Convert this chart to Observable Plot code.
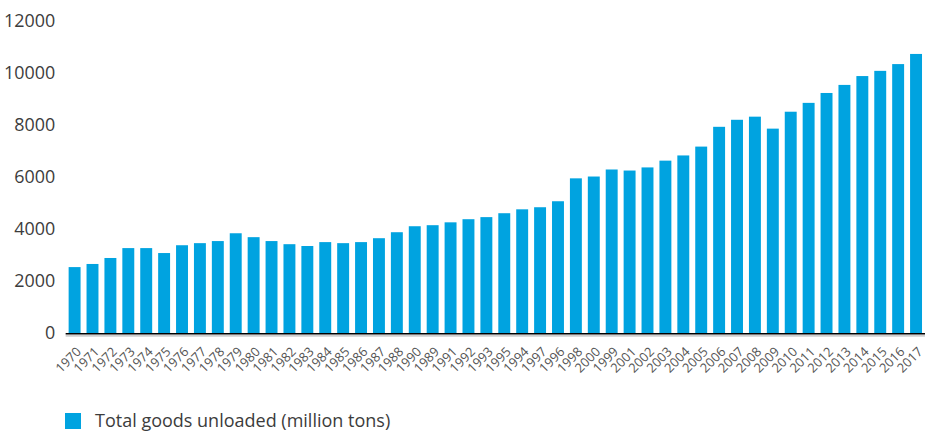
<!DOCTYPE html>
<html><head><meta charset="utf-8">
<script src="https://cdn.jsdelivr.net/npm/d3@7"></script>
<script src="https://cdn.jsdelivr.net/npm/@observablehq/plot@0.6"></script>
<style>
html,body{margin:0;padding:0;overflow:hidden;background:#fff;width:925px;height:432px;}
#chart svg{display:block;}
.legend{position:relative;height:37px;font-family:"Open Sans",sans-serif;}
.legend .sw{position:absolute;left:65px;top:20px;width:16px;height:16px;background:#00a3e0;}
.legend .lb{position:absolute;left:95px;top:18px;font-size:18px;line-height:18px;color:#3c3c3c;white-space:nowrap;}
</style></head><body>
<div id="chart"></div>
<div class="legend"><span class="sw"></span><span class="lb">Total goods unloaded (million tons)</span></div>
<script>
const years = ["1970","1971","1972","1973","1974","1975","1976","1977","1978","1979","1980","1981","1982","1983","1984","1985","1986","1987","1988","1990","1989","1991","1992","1993","1995","1994","1997","1996","1998","2000","1999","2001","2002","2003","2004","2005","2006","2007","2008","2009","2010","2011","2012","2013","2014","2015","2016","2017"];
const values = [2540,2660,2890,3270,3270,3080,3380,3460,3540,3840,3690,3540,3420,3350,3500,3460,3500,3650,3880,4110,4150,4260,4380,4460,4610,4760,4840,5070,5950,6020,6290,6250,6370,6630,6830,7170,7930,8200,8320,7860,8510,8850,9230,9540,9880,10080,10340,10730];
const yTicks = [0,2000,4000,6000,8000,10000,12000];
const data = years.map((y,i)=>({year:y, value:values[i]}));
const H = 395;
const chart = Plot.plot({
  width: 930, height: H,
  marginLeft: 66, marginRight: 0, marginTop: 21, marginBottom: H - 335,
  style: {fontFamily: "'Open Sans', sans-serif", background: "#fff", overflow: "visible"},
  x: {domain: years, paddingInner: 1/3, paddingOuter: 1/6, label: null},
  y: {domain: [0, 12000], label: null},
  marks: [
    Plot.barY(data, {x: "year", y: "value", fill: "#00a3e0"}),
    Plot.ruleY([0], {stroke: "#cfcfcf", strokeWidth: 2, dy: 2}),
    Plot.ruleY([0], {stroke: "#000", strokeWidth: 1.5}),
    Plot.axisY(yTicks, {tickSize: 0, tickPadding: 11, fontSize: 18, fill: "#3c3c3c", label: null, tickFormat: d => String(d)}),
    Plot.axisX({tickSize: 0, tickRotate: -45, tickPadding: 10, dx: 4, dy: 6, fontSize: 13, fill: "#555", label: null})
  ]
});
document.getElementById("chart").appendChild(chart);
</script>
</body></html>
